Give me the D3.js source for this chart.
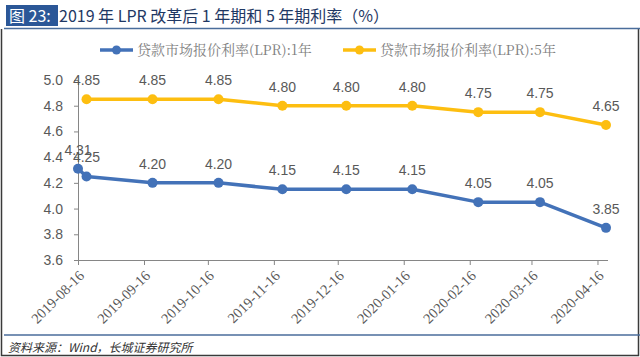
<!DOCTYPE html>
<html><head><meta charset="utf-8">
<script src="https://cdn.jsdelivr.net/npm/d3@7"></script>
<style>body{margin:0;background:#fff}svg{display:block}</style>
</head><body>
<svg id="c" width="640" height="357"></svg>
<script>
const dates1 = ["2019-08-16","2019-08-20","2019-09-20","2019-10-21","2019-11-20","2019-12-20","2020-01-20","2020-02-20","2020-03-20","2020-04-20"];
const lpr1Y = [4.31,4.25,4.20,4.20,4.15,4.15,4.15,4.05,4.05,3.85];
const dates5 = ["2019-08-20","2019-09-20","2019-10-21","2019-11-20","2019-12-20","2020-01-20","2020-02-20","2020-03-20","2020-04-20"];
const lpr5Y = [4.85,4.85,4.85,4.80,4.80,4.80,4.75,4.75,4.65];
const tickDates = ["2019-08-16","2019-09-16","2019-10-16","2019-11-16","2019-12-16","2020-01-16","2020-02-16","2020-03-16","2020-04-16"];
const yTicks = [3.6,3.8,4.0,4.2,4.4,4.6,4.8,5.0];
const seriesNames = ["贷款市场报价利率(LPR):1年","贷款市场报价利率(LPR):5年"];
const titleLabel = "图 23:";
const titleText = "2019 年 LPR 改革后 1 年期和 5 年期利率（%）";
const sourceText = "资料来源：Wind，长城证券研究所";

const parse = d3.timeParse("%Y-%m-%d");
const fmt = d3.timeFormat("%Y-%m-%d");
const svg = d3.select("#c");
const colors = ["#4372B8", "#FDBE10"];

const x = d3.scaleTime().domain([parse("2019-08-16"), parse("2020-04-20")]).range([78, 606]);
const y = d3.scaleLinear().domain([3.6, 5.0]).range([260, 80]);

// frame
svg.append("path").attr("d","M1.5,29 V355.5 H638.5 V29").attr("fill","none").attr("stroke","#3a3a3a").attr("stroke-width",1.5);
// title
svg.append("rect").attr("x",6).attr("y",5).attr("width",52).attr("height",21).attr("fill","#2B5797");
svg.append("text").attr("x",9).attr("y",22).attr("fill","#fff").attr("font-family","Noto Sans CJK SC").attr("font-size",16).text(titleLabel);
svg.append("text").attr("x",59).attr("y",22).attr("fill","#1F3864").attr("font-family","Noto Sans CJK SC").attr("font-size",16).text(titleText);
svg.append("line").attr("x1",4).attr("x2",640).attr("y1",28.5).attr("y2",28.5).attr("stroke","#4A6D9B").attr("stroke-width",1.5);

// legend
const legX = [100, 343];
seriesNames.forEach((n,i)=>{
  const g = svg.append("g").attr("transform",`translate(${legX[i]},50)`);
  g.append("line").attr("x1",0).attr("x2",33).attr("stroke",colors[i]).attr("stroke-width",3.5);
  g.append("circle").attr("cx",16.5).attr("r",4.5).attr("fill",colors[i]);
  g.append("text").attr("x",37).attr("y",5).attr("fill","#808080").attr("font-family","Noto Serif CJK SC, Noto Sans CJK SC").attr("font-size",14).text(n);
});

// y axis
const yAxis = svg.append("g").attr("transform","translate(78,0)")
  .call(d3.axisLeft(y).tickValues(yTicks).tickFormat(d3.format(".1f")).tickSize(4).tickSizeOuter(0));
yAxis.select(".domain").attr("stroke","#868686");
yAxis.selectAll(".tick line").attr("stroke","#868686");
yAxis.selectAll("text").attr("fill","#595959").attr("font-family","Liberation Sans, Arial").attr("font-size",14).attr("x",-15);

// x axis
const xAxis = svg.append("g").attr("transform","translate(0,260)")
  .call(d3.axisBottom(x).tickValues(tickDates.map(parse)).tickFormat(fmt).tickSize(5).tickSizeOuter(0));
xAxis.select(".domain").attr("stroke","#868686").attr("d","M78,0.5H608");
xAxis.selectAll(".tick line").attr("stroke","#868686");
xAxis.selectAll("text").attr("fill","#595959").attr("font-family","Liberation Serif, Times New Roman").attr("font-size",14.5)
  .attr("y",0).attr("dy","0.35em").attr("text-anchor","end").attr("transform","translate(3,13) rotate(-45)");

// series
const series = [
  {dates: dates1, vals: lpr1Y, color: colors[0]},
  {dates: dates5, vals: lpr5Y, color: colors[1]}
];
const line = d3.line().x(d=>x(d.d)).y(d=>y(d.v));
series.forEach(s=>{
  const pts = s.dates.map((d,i)=>({d:parse(d), v:s.vals[i]}));
  svg.append("path").datum(pts).attr("d",line).attr("fill","none").attr("stroke",s.color).attr("stroke-width",3.5).attr("stroke-linejoin","round");
  svg.selectAll(null).data(pts).enter().append("circle").attr("cx",d=>x(d.d)).attr("cy",d=>y(d.v)).attr("r",5).attr("fill",s.color);
  svg.selectAll(null).data(pts).enter().append("text").attr("x",d=>x(d.d)).attr("y",d=>y(d.v)-14)
    .attr("text-anchor","middle").attr("fill","#595959").attr("font-family","Liberation Sans, Arial").attr("font-size",14)
    .text(d=>d3.format(".2f")(d.v));
});

// source
svg.append("line").attr("x1",4).attr("x2",640).attr("y1",335).attr("y2",335).attr("stroke","#4A6D9B").attr("stroke-width",1.5);
svg.append("text").attr("x",8).attr("y",352).attr("fill","#333").attr("font-family","Noto Sans CJK SC").attr("font-style","italic").attr("font-size",12).text(sourceText);
</script>
</body></html>
